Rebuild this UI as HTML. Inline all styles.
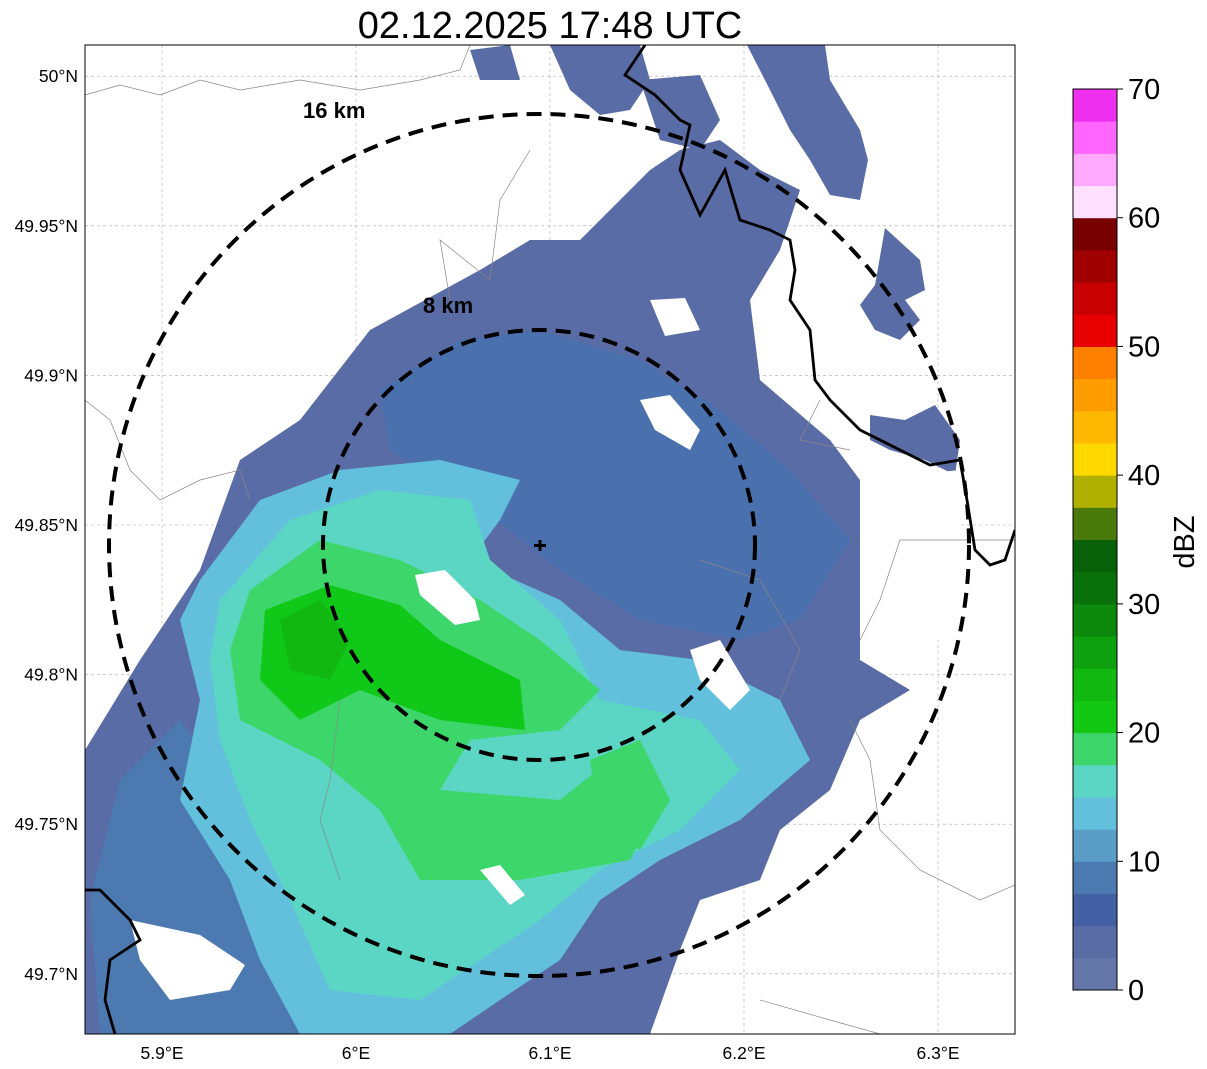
<!DOCTYPE html>
<html><head><meta charset="utf-8"><style>
body{margin:0;background:#fff;}
svg{display:block;font-family:"Liberation Sans",sans-serif;}
</style></head><body>
<svg id="chart" width="1207" height="1069" viewBox="0 0 1207 1069" xmlns="http://www.w3.org/2000/svg">
<text x="550" y="38" font-size="38" text-anchor="middle">02.12.2025 17:48 UTC</text>
<defs><clipPath id="mapclip"><rect x="85" y="45" width="930" height="989"/></clipPath></defs>
<g clip-path="url(#mapclip)">
  <rect x="85" y="45" width="930" height="989" fill="#fff"/>
  <g id="grid"></g>
  <g>
    <path fill="#5a6ca5" d="M85,750 L140,660 L200,570 L240,460 L300,420 L370,330 L480,270 L530,240 L580,240 L620,200 L650,170 L680,150 L720,140 L760,170 L800,190 L780,250 L750,300 L760,380 L830,440 L860,480 L860,580 L860,660 L910,690 L860,720 L830,790 L780,830 L760,880 L700,900 L680,950 L650,1034 L85,1034 Z"/>
    <path fill="#5a6ca5" d="M470,50 L510,45 L520,80 L480,80 Z"/>
    <path fill="#5a6ca5" d="M550,45 L640,45 L650,80 L630,110 L600,115 L570,90 Z"/>
    <path fill="#5a6ca5" d="M640,80 L700,75 L720,120 L700,150 L660,140 Z"/>
    <path fill="#5a6ca5" d="M747,45 L825,45 L830,80 L860,130 L868,160 L860,200 L830,195 L810,160 L790,130 L770,90 Z"/>
    <path fill="#5a6ca5" d="M885,228 L920,260 L925,290 L905,300 L920,320 L900,340 L875,330 L860,305 L875,285 Z"/>
    <path fill="#5a6ca5" d="M870,415 L905,420 L935,405 L960,440 L955,475 L925,460 L890,450 L870,440 Z"/>
    <path fill="#4a70ad" d="M380,390 L460,340 L540,330 L640,360 L720,410 L790,470 L850,540 L800,620 L740,640 L640,620 L560,570 L470,500 L390,450 Z"/>
    <path fill="#4c7ab0" d="M120,780 L180,720 L240,800 L280,900 L300,980 L330,1034 L100,1034 L90,900 Z"/>
    <path fill="#63c0dc" d="M200,580 L260,500 L340,470 L440,460 L520,480 L500,520 L470,560 L560,600 L620,650 L700,660 L780,700 L810,760 L740,820 L660,860 L600,900 L560,960 L500,1000 L450,1034 L300,1034 L260,960 L230,880 L180,800 L200,700 L180,620 Z"/>
    <path fill="#5cd6c4" d="M220,600 L290,520 L380,490 L470,500 L490,560 L560,620 L600,700 L700,720 L740,770 L680,830 L600,870 L540,920 L480,960 L420,1000 L330,990 L290,900 L250,820 L220,740 L210,660 Z"/>
    <path fill="#3dd66b" d="M250,590 L320,540 L400,560 L480,600 L540,640 L600,690 L560,730 L470,740 L440,790 L560,800 L610,760 L660,800 L630,860 L520,880 L420,880 L380,810 L320,760 L240,720 L230,650 Z"/>
    <path fill="#3dd66b" d="M590,760 L640,740 L670,800 L640,850 L600,830 Z"/>
    <path fill="#10c818" d="M265,610 L330,585 L400,605 L440,640 L520,680 L525,730 L440,720 L360,690 L300,720 L260,680 Z"/>
    <path fill="#12b812" d="M280,620 L320,600 L350,640 L330,680 L290,670 Z"/>
    <path fill="#fff" d="M415,575 L445,570 L475,600 L480,620 L455,625 L420,595 Z"/>
    <path fill="#fff" d="M640,400 L670,395 L700,430 L690,450 L655,430 Z"/>
    <path fill="#fff" d="M690,650 L720,640 L750,690 L730,710 L700,680 Z"/>
    <path fill="#fff" d="M130,920 L200,935 L245,965 L230,990 L170,1000 L140,960 Z"/>
    <path fill="#fff" d="M480,870 L500,865 L525,895 L510,905 Z"/>
    <path fill="#fff" d="M650,300 L685,298 L700,330 L665,336 Z"/>
    <path fill="#fff" d="M860,480 L960,470 L960,640 L860,640 Z"/>
  </g>
  <g fill="none">
    <path stroke="#888" stroke-width="0.7" d="M85,95 L120,85 L160,95 L200,80 L240,90 L300,80 L360,90 L420,80 L460,70 L470,45 M85,400 L110,420 L130,470 L160,500 L200,480 L240,470 L250,500 M530,150 L500,200 L490,280 L440,240 L450,300 M700,560 L760,580 L800,650 L780,700 M820,400 L800,440 L850,450 M1015,885 L980,900 L920,870 L880,830 L870,760 L850,720 M1015,540 L900,540 L880,600 L860,640 M760,1000 L830,1020 L880,1034 M340,700 L330,780 L320,820 L340,880"/>
    <path stroke="#000" stroke-width="2.8" d="M645,45 L625,75 L655,95 L680,120 L690,125 L680,170 L700,215 L725,170 L740,220 L770,230 L790,240 L795,270 L790,300 L810,330 L815,380 L830,400 L860,430 L890,445 L930,465 L960,460 L967,500 L975,550 L990,565 L1005,560 L1015,530"/>
    <path stroke="#000" stroke-width="2.8" d="M85,890 L100,890 L130,920 L140,940 L110,960 L105,1000 L115,1034"/>
  </g>
  <g fill="none" stroke="#000" stroke-width="4" stroke-dasharray="15,9">
    <ellipse cx="539" cy="545" rx="216" ry="215"/>
    <ellipse cx="539" cy="545" rx="430" ry="431"/>
  </g>
  <path d="M540,540 V551 M534,545.5 H546" stroke="#000" stroke-width="3"/>
  <text x="303" y="118" font-size="22" font-weight="bold">16 km</text>
  <text x="423" y="313" font-size="22" font-weight="bold">8 km</text>
</g>
<rect x="85" y="45" width="930" height="989" fill="none" stroke="#000" stroke-width="1"/>
<g id="ticks" font-size="17.5"></g>
<g id="cbar"></g>
<text x="1194" y="542" font-size="29" text-anchor="middle" transform="rotate(-90 1194 542)">dBZ</text>
</svg>
<script>
const lonTicks=[5.9,6.0,6.1,6.2,6.3];
const lonLabels=["5.9°E","6°E","6.1°E","6.2°E","6.3°E"];
const latTicks=[50.0,49.95,49.9,49.85,49.8,49.75,49.7];
const latLabels=["50°N","49.95°N","49.9°N","49.85°N","49.8°N","49.75°N","49.7°N"];
const cbarColors=["#6577a8","#5a6ca5","#4460a5","#4c7ab0","#5a9ec8","#63c0dc","#5cd6c4","#3dd66b","#12c812","#10b810","#0ea00e","#0c880c","#0a700a","#086008","#4a7a0a","#b0b000","#ffd800","#ffb800","#ff9c00","#ff8000","#e80000","#c80000","#a00000","#780000","#ffe0ff","#ffaaff","#ff66ff","#f030f0"];
const cbarTicks=[0,10,20,30,40,50,60,70];
const NS="http://www.w3.org/2000/svg";
const xLon=lon=>356+(lon-6)*1940;
const yLat=lat=>525-(lat-49.85)*2992;
const yC=v=>990-v*(901/70);
function mk(t,a,p){const e=document.createElementNS(NS,t);for(const k in a)e.setAttribute(k,a[k]);p.appendChild(e);return e;}
const grid=document.getElementById('grid'),ticks=document.getElementById('ticks'),cb=document.getElementById('cbar');
lonTicks.forEach((v,i)=>{const x=xLon(v);
 const l=mk('line',{x1:x,x2:x,y1:45,y2:1034,stroke:'#aaa','stroke-width':0.6,'stroke-dasharray':'3,3'},grid);
 
 const t=mk('text',{x:x,y:1059,'text-anchor':'middle'},ticks);t.textContent=lonLabels[i];
 });
latTicks.forEach((v,i)=>{const y=yLat(v);
 const l=mk('line',{x1:85,x2:1015,y1:y,y2:y,stroke:'#aaa','stroke-width':0.6,'stroke-dasharray':'3,3'},grid);
 
 const t=mk('text',{x:78,y:y+6,'text-anchor':'end'},ticks);t.textContent=latLabels[i];
 });
cbarColors.forEach((c,i)=>{const y0=yC(i*2.5+2.5),y1=yC(i*2.5);
 const r=mk('rect',{x:1073,y:y0,width:44,height:y1-y0+0.5,fill:c},cb);
 });
const fr=mk('rect',{x:1073,y:yC(70),width:44,height:yC(0)-yC(70),fill:'none',stroke:'#000','stroke-width':1},cb);

cbarTicks.forEach(v=>{const y=yC(v);
 const l=mk('line',{x1:1117,x2:1123,y1:y,y2:y,stroke:'#000'},cb);
 
 const t=mk('text',{x:1128,y:y+10,'font-size':29},cb);t.textContent=v;
 });
</script>
</body></html>
